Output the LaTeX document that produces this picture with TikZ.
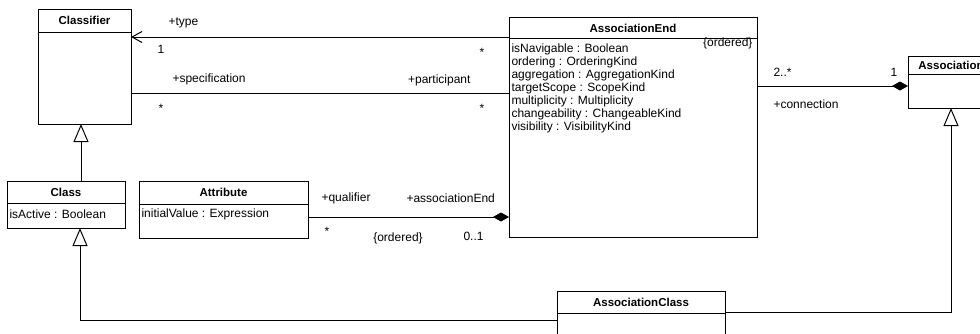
\documentclass[tikz,border=0pt]{standalone}
\usepackage{fontspec}
\setmainfont{Liberation Sans}
\usetikzlibrary{arrows.meta,calc}
\begin{document}
\begin{tikzpicture}[x=1pt,y=-1pt,line width=1pt,
  box/.style={draw,line width=1pt,anchor=north west,inner sep=0pt,outer sep=0pt,fill=white},
  ttl/.style={font=\bfseries\fontsize{11.5}{12}\selectfont,inner sep=0pt},
  attr/.style={font=\fontsize{12}{13}\selectfont,inner sep=0pt,anchor=west},
  lbl/.style={font=\fontsize{12}{13}\selectfont,inner sep=0pt},
  gen/.style={-{Triangle[open,length=18pt,width=15pt]}},
  comp/.style={-{Diamond[length=16pt,width=9pt]}},
  nav/.style={-{Straight Barb[length=10pt,width=11pt]}}]
\useasboundingbox (0,0) rectangle (980,333);
\clip (0,0) rectangle (980,333);
\fill[white] (0,0) rectangle (980,333);

% Classifier
\node[box,minimum width=93pt,minimum height=115pt] (classifier) at (38,9) {};
\draw ($(classifier.north west)+(0,23)$) -- ($(classifier.north east)+(0,23)$);
\node[ttl] (classifierT) at ($(classifier.north)+(0,11.5)$) {Classifier};

% AssociationEnd
\node[box,minimum width=248pt,minimum height=220pt] (aend) at (509,17) {};
\draw ($(aend.north west)+(0,21)$) -- ($(aend.north east)+(0,21)$);
\node[ttl] (aendT) at ($(aend.north)+(0,11)$) {AssociationEnd};
\node[lbl,anchor=east] (aendO) at (753,43) {\{ordered\}};
\node[attr] (a1) at (511,49) {isNavigable : Boolean};
\node[attr] (a2) at (511,62) {ordering : OrderingKind};
\node[attr] (a3) at (511,75) {aggregation : AggregationKind};
\node[attr] (a4) at (511,88) {targetScope : ScopeKind};
\node[attr] (a5) at (511,101) {multiplicity : Multiplicity};
\node[attr] (a6) at (511,114) {changeability : ChangeableKind};
\node[attr] (a7) at (511,127) {visibility : VisibilityKind};

% Association
\node[box,minimum width=86pt,minimum height=52pt] (assoc) at (908,56) {};
\draw ($(assoc.north west)+(0,18)$) -- ($(assoc.north east)+(0,18)$);
\node[ttl] (assocT) at ($(assoc.north)+(0,9)$) {Association};

% Class
\node[box,minimum width=118pt,minimum height=47pt] (class) at (7,181) {};
\draw ($(class.north west)+(0,22)$) -- ($(class.north east)+(0,22)$);
\node[ttl] (classT) at ($(class.north)+(0,11)$) {Class};
\node[attr] (c1) at (9,214) {isActive : Boolean};

% Attribute
\node[box,minimum width=169pt,minimum height=57pt] (attrib) at (139,181) {};
\draw ($(attrib.north west)+(0,23)$) -- ($(attrib.north east)+(0,23)$);
\node[ttl] (attribT) at ($(attrib.north)+(0,11.5)$) {Attribute};
\node[attr] (t1) at (141,214) {initialValue : Expression};

% AssociationClass
\node[box,minimum width=168pt,minimum height=60pt] (aclass) at (557,291) {};
\draw ($(aclass.north west)+(0,22)$) -- ($(aclass.north east)+(0,22)$);
\node[ttl] (aclassT) at ($(aclass.north)+(0,11)$) {AssociationClass};

% helper coordinates
\coordinate (ytype) at (0,37);
\coordinate (yspec) at (0,93);
\coordinate (yconn) at (0,86);
\coordinate (yqual) at (0,217);
\coordinate (g1) at (80,320);
\coordinate (g2) at (951,312);
\coordinate (g3) at (81,0);

% type / specification
\draw[nav] (aend.west |- ytype) -- (classifier.east |- ytype);
\draw (classifier.east |- yspec) -- (aend.west |- yspec);
\node[lbl,anchor=west] (lt) at (168,23) {+type};
\node[lbl] (l1) at (161,49) {1};
\node[lbl] (ls1) at (482,52) {*};
\node[lbl,anchor=west] (lsp) at (172,79) {+specification};
\node[lbl] (ls2) at (161,108) {*};
\node[lbl,anchor=east] (lpa) at (471,80) {+participant};
\node[lbl] (ls3) at (482,108) {*};

% connection
\draw[comp] (aend.east |- yconn) -- (assoc.west |- yconn);
\node[lbl,anchor=west] (lmul) at (773,72) {2..*};
\node[lbl] (lone) at (894,72) {1};
\node[lbl,anchor=west] (lcon) at (773,104) {+connection};

% qualifier
\draw[comp] (attrib.east |- yqual) -- (aend.west |- yqual);
\node[lbl,anchor=west] (lq) at (321,198) {+qualifier};
\node[lbl,anchor=west] (lae) at (406,198) {+associationEnd};
\node[lbl] (lqs) at (327,231) {*};
\node[lbl] (lqo) at (398,238) {\{ordered\}};
\node[lbl,anchor=west] (lq01) at (463,236) {0..1};

% generalizations
\draw[gen] (class.north -| g3) -- (classifier.south -| g3);
\draw[gen] (aclass.west |- g1) -| (class.south -| g1);
\draw[gen] (aclass.east |- g2) -| (assoc.south -| g2);
\end{tikzpicture}
\end{document}
